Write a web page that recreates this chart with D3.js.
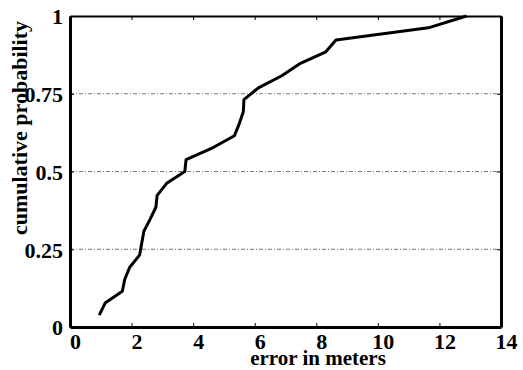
<!DOCTYPE html>
<html>
<head>
<meta charset="utf-8">
<script src="https://cdn.jsdelivr.net/npm/d3@7"></script>
<style>
  body { margin: 0; background: #fff; }
  svg text { font-family: "Liberation Serif", "Times New Roman", serif; font-weight: bold; }
</style>
</head>
<body>
<div id="chart"></div>
<script>
const errorMeters = [0.95, 1.14, 1.70, 1.78, 1.94, 2.26, 2.33, 2.40, 2.60, 2.79, 2.83, 3.14, 3.73,
    3.77, 4.65, 5.34, 5.50, 5.63, 5.65, 6.12, 6.88, 7.45, 8.31, 8.64, 11.64, 12.88];
const cumProb = [0.038, 0.077, 0.115, 0.154, 0.192, 0.231, 0.269, 0.308, 0.346, 0.385, 0.423, 0.462, 0.5,
    0.538, 0.577, 0.615, 0.654, 0.692, 0.731, 0.769, 0.808, 0.846, 0.885, 0.923, 0.962, 1.0];
const xTicks = [0, 2, 4, 6, 8, 10, 12, 14];
const yTicks = [0, 0.25, 0.5, 0.75, 1];
const yTickLabels = ["0", "0.25", "0.5", "0.75", "1"];

const width = 523, height = 370;
const margin = {top: 16, right: 22, bottom: 43, left: 70};

const svg = d3.select("#chart").append("svg")
    .attr("width", width)
    .attr("height", height);

const x = d3.scaleLinear().domain([0, 14]).range([margin.left, width - margin.right]);
const y = d3.scaleLinear().domain([0, 1]).range([height - margin.bottom, margin.top]);

// dash-dot grid lines
svg.append("g")
    .selectAll("line")
    .data(yTicks.filter(d => d > 0 && d < 1))
    .enter().append("line")
    .attr("x1", x(0)).attr("x2", x(14))
    .attr("y1", d => y(d)).attr("y2", d => y(d))
    .attr("stroke", "#777")
    .attr("stroke-width", 1)
    .attr("stroke-dasharray", "4,2,1,2");

// axes with inward ticks
const bottomAxis = svg.append("g")
    .attr("transform", `translate(0,${y(0)})`)
    .call(d3.axisBottom(x).tickValues(xTicks).tickSizeInner(-4).tickSizeOuter(0).tickFormat(d3.format("d")));
const topAxis = svg.append("g")
    .attr("transform", `translate(0,${y(1)})`)
    .call(d3.axisTop(x).tickValues(xTicks).tickSizeInner(-4).tickSizeOuter(0).tickFormat(""));
const leftAxis = svg.append("g")
    .attr("transform", `translate(${x(0)},0)`)
    .call(d3.axisLeft(y).tickValues(yTicks).tickSizeInner(-4).tickSizeOuter(0)
        .tickFormat((d, i) => yTickLabels[i]));
const rightAxis = svg.append("g")
    .attr("transform", `translate(${x(14)},0)`)
    .call(d3.axisRight(y).tickValues(yTicks).tickSizeInner(-4).tickSizeOuter(0).tickFormat(""));

[bottomAxis, topAxis, leftAxis, rightAxis].forEach(a => {
    a.select(".domain").attr("stroke", "#000").attr("stroke-width", 3);
    a.selectAll(".tick line").attr("stroke", "#000").attr("stroke-width", 1);
});
topAxis.select(".domain").attr("stroke-width", 2);

bottomAxis.selectAll("text")
    .attr("font-size", 22)
    .attr("fill", "#000")
    .attr("dx", 5)
    .attr("dy", null)
    .attr("y", 22);
leftAxis.selectAll("text")
    .attr("font-size", 22)
    .attr("fill", "#000")
    .attr("x", -7)
    .attr("dy", "0.36em");

// the CDF curve
const points = errorMeters.map((e, i) => [e, cumProb[i]]);
svg.append("path")
    .datum(points)
    .attr("fill", "none")
    .attr("stroke", "#000")
    .attr("stroke-width", 3)
    .attr("stroke-linejoin", "round")
    .attr("d", d3.line().x(d => x(d[0])).y(d => y(d[1])));

// axis titles
svg.append("text")
    .attr("x", 318)
    .attr("y", 365)
    .attr("text-anchor", "middle")
    .attr("font-size", 21)
    .text("error in meters");

svg.append("text")
    .attr("transform", "translate(27,128) rotate(-90)")
    .attr("text-anchor", "middle")
    .attr("font-size", 22)
    .text("cumulative probability");
</script>
</body>
</html>
